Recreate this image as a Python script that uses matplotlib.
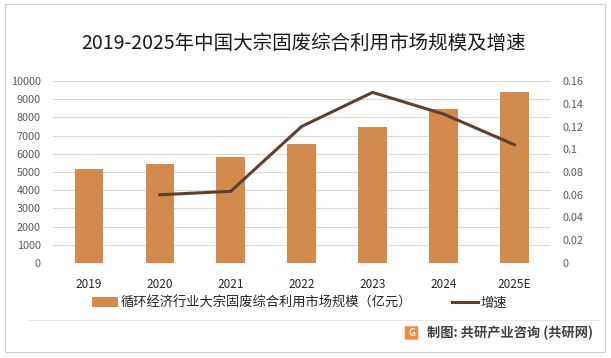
import matplotlib
matplotlib.use("Agg")
import matplotlib.pyplot as plt
from matplotlib.patches import Rectangle, FancyBboxPatch
from matplotlib.lines import Line2D

plt.rcParams['font.family'] = ['Noto Sans CJK SC', 'DejaVu Sans']

# data
years = ["2019", "2020", "2021", "2022", "2023", "2024", "2025E"]
scale = [5170, 5440, 5820, 6540, 7470, 8460, 9400]   # 亿元
growth_years = ["2020", "2021", "2022", "2023", "2024", "2025E"]
growth = [0.060, 0.063, 0.120, 0.150, 0.131, 0.104]

bar_color = "#D38B4D"
line_color = "#5C4130"
grid_color = "#D9D9D9"
tick_color = "#595959"

fig = plt.figure(figsize=(6.11, 3.58), dpi=100)

# outer frame and divider
fig.patches.append(Rectangle((5 / 611, 1 - 352 / 358), 600 / 611, 348 / 358,
                             transform=fig.transFigure, fill=False,
                             edgecolor="#D0D0D0", linewidth=0.8))
fig.lines.append(Line2D([27 / 611, 599 / 611], [1 - 320 / 358] * 2,
                        transform=fig.transFigure, color="#E6E6E6", linewidth=0.8))

ax = fig.add_axes([0.0872, 0.2654, 0.8128, 0.5083])
x = list(range(len(years)))
ax.bar(x, scale, width=0.4, color=bar_color, zorder=2,
       label="循环经济行业大宗固废综合利用市场规模（亿元）")
ax.set_xlim(-0.5, len(years) - 0.5)
ax.set_ylim(0, 10000)
ax.set_yticks(range(0, 10001, 1000))
ax.grid(axis="y", color=grid_color, linewidth=0.8, zorder=0)
ax.set_xticks(x)
ax.set_xticklabels(years)
for s in ax.spines.values():
    s.set_visible(False)
ax.tick_params(axis="both", length=0, colors="#262626", labelsize=8.5)
ax.tick_params(axis="y", colors=tick_color, labelsize=7.8, pad=9)
ax.tick_params(axis="x", pad=11)

ax2 = ax.twinx()
gx = [years.index(y) for y in growth_years]
ax2.plot(gx, growth, color=line_color, linewidth=2.2, zorder=3, label="增速")
ax2.set_ylim(0, 0.16)
ax2.set_yticks([i * 0.02 for i in range(9)])
ax2.set_yticklabels([f"{i * 0.02:g}" for i in range(9)])
for s in ax2.spines.values():
    s.set_visible(False)
ax2.tick_params(axis="y", length=0, colors=tick_color, labelsize=7.8, pad=9)

fig.text(0.497, 1 - 43 / 358, "2019-2025年中国大宗固废综合利用市场规模及增速",
         ha="center", va="center", fontsize=14, color="#1a1a1a")

h1, l1 = ax.get_legend_handles_labels()
h2, l2 = ax2.get_legend_handles_labels()
fig.legend(h1 + h2, l1 + l2, loc="center", bbox_to_anchor=(0.49, 1 - 303 / 358),
           ncol=2, frameon=False, fontsize=9.5, handlelength=2.0,
           handletextpad=0.2, columnspacing=3.0, labelcolor="#262626")

# source line with small logo
fig.patches.append(FancyBboxPatch((406 / 611, 1 - 339 / 358), 11 / 611, 12 / 358,
                                  boxstyle="round,pad=0.002", transform=fig.transFigure,
                                  facecolor="#F08A3C", edgecolor="none"))
fig.text(411.5 / 611, 1 - 333 / 358, "G", ha="center", va="center", fontsize=7,
         color="white", fontweight="bold")
fig.text(427 / 611, 1 - 333 / 358, "制图: 共研产业咨询 (共研网)", ha="left", va="center",
         fontsize=9.5, fontweight="bold", color="#404040")

fig.savefig("out.png", dpi=100)
